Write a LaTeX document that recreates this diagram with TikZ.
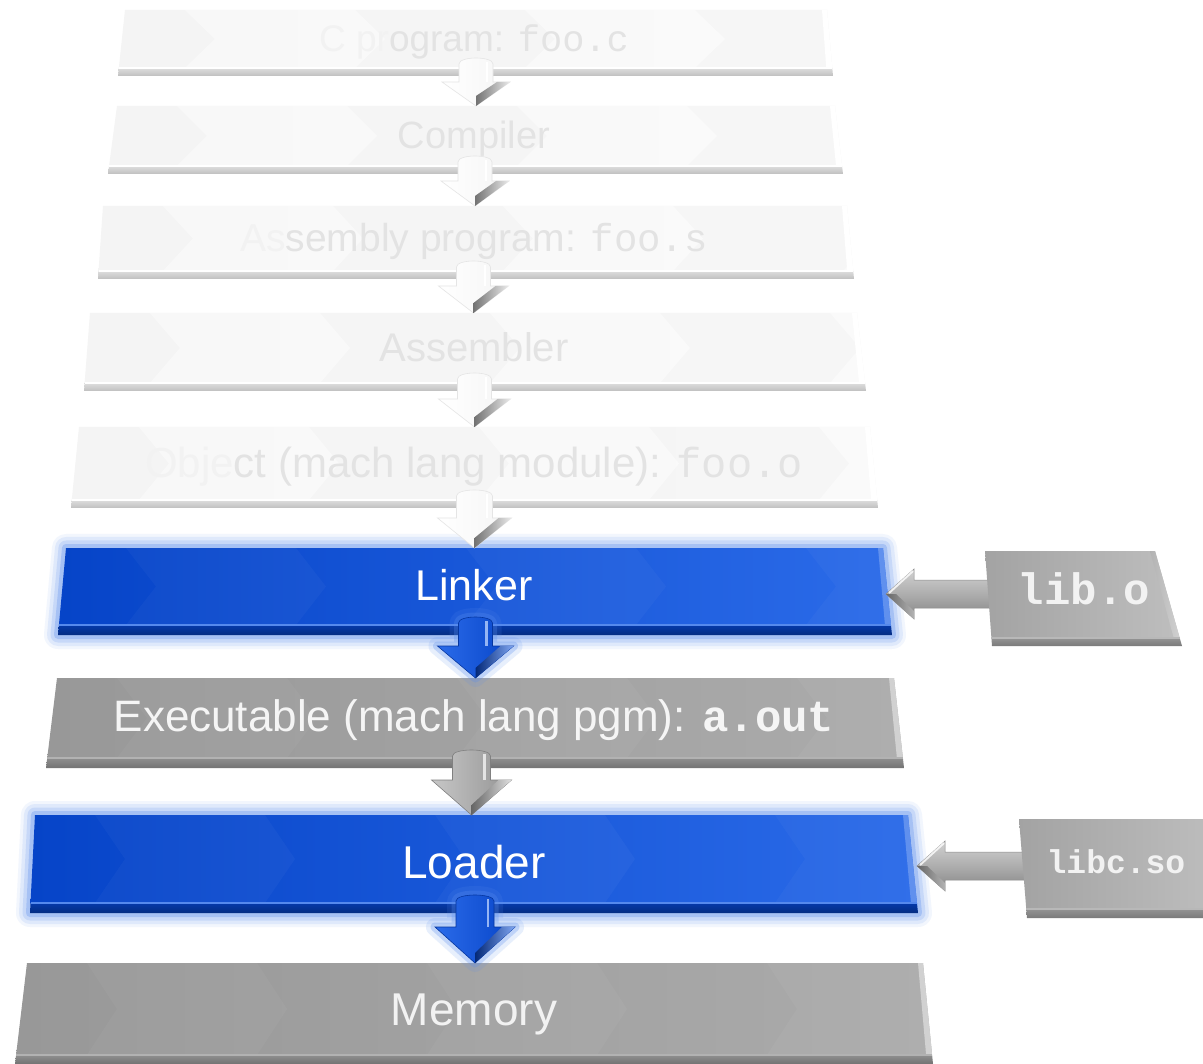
\documentclass[tikz,border=0pt]{standalone}
\usepackage{fontspec}
\setmainfont{Liberation Sans}
\newfontfamily\cmono{Liberation Mono}
\usetikzlibrary{calc}

\definecolor{fadeL}{HTML}{F4F4F4}
\definecolor{fadeR}{HTML}{F6F6F6}
\definecolor{fadeTxt}{HTML}{E3E3E3}
\definecolor{fadeHid}{HTML}{F2F2F2}
\definecolor{blueL}{HTML}{0644C8}
\definecolor{blueR}{HTML}{2B6BE9}
\definecolor{blueGlow}{HTML}{5A8EEE}
\definecolor{grayL}{HTML}{989898}
\definecolor{grayR}{HTML}{ABABAB}
\definecolor{libL}{HTML}{A3A3A3}
\definecolor{libR}{HTML}{BEBEBE}

% slab: #1 name, #2 ytop, #3 yface, #4 ybot, #5 xTL, #6 xTR, #7 xBL, #8 xBR, #9 style prefix
\newcommand\slab[9]{%
  \coordinate (#1-tl) at (#5,#2);
  \coordinate (#1-tr) at (#6,#2);
  \coordinate (#1-bl) at (#7,#4);
  \coordinate (#1-br) at (#8,#4);
  \coordinate (#1-fl) at ($(#1-tl)!{(#3-#2)/(#4-#2)}!(#1-bl)$);
  \coordinate (#1-fr) at ($(#1-tr)!{(#3-#2)/(#4-#2)}!(#1-br)$);
  \coordinate (#1-tc) at ($(#1-tl)!0.5!(#1-tr)$);
  \coordinate (#1-bc) at ($(#1-bl)!0.5!(#1-br)$);
  \path[#9glow] (#1-tl) -- (#1-tr) -- (#1-br) -- (#1-bl) -- cycle;
  \path[#9face] (#1-tl) -- (#1-tr) -- (#1-fr) -- (#1-fl) -- cycle;
  \begin{scope}
    \clip (#1-tl) -- (#1-tr) -- (#1-fr) -- (#1-fl) -- cycle;
    \foreach \k in {0,2,4} {
      \pgfmathsetmacro\ca{#5+60+170*\k}
      \pgfmathsetmacro\cb{\ca+170}
      \pgfmathsetmacro\cm{(#2+#3)/2}
      \path[#9chev] (\ca,#2) -- (\ca+30,\cm) -- (\ca,#3) -- (\cb,#3) -- (\cb+30,\cm) -- (\cb,#2) -- cycle;
    }
  \end{scope}
  \path[#9bev] (#1-fl) -- (#1-fr) -- (#1-br) -- (#1-bl) -- cycle;
  \path[#9side] (#1-tr) -- (#1-fr) -- ($(#1-fr)+(-6,0)$) -- ($(#1-tr)+(-5,0)$) -- cycle;
  \path[#9edge] (#1-fl) -- (#1-fr);
}

% down arrow: #1 upper slab, #2 lower slab, #3 shaft half width, #4 head half width, #5 head length, #6 style prefix
\newcommand\darr[6]{%
  \coordinate (#1-#2-s) at ($(#2-tc |- #1-bc)+(0,-12)$);
  \coordinate (#1-#2-h) at ($(#2-tc)+(0,-#5)$);
  \path[#6arr] ($(#1-#2-s)+(-#3,0)$) -- ($(#1-#2-h)+(-#3,0)$) -- ($(#1-#2-h)+(-#4,0)$)
     -- (#2-tc) -- ($(#1-#2-h)+(#4,0)$) -- ($(#1-#2-h)+(#3,0)$) -- ($(#1-#2-s)+(#3,0)$)
     .. controls ($(#1-#2-s)+(#3,-8)$) and ($(#1-#2-s)+(-#3,-8)$) .. ($(#1-#2-s)+(-#3,0)$) -- cycle;
  \path[#6bevel] ($(#1-#2-h)+(#4,0)$) -- (#2-tc) -- ($(#2-tc)+(0,-10)$) -- ($(#1-#2-h)+(#4-13,0)$) -- cycle;
  \path[#6hl] ($(#1-#2-s)+(#3-6,-2)$) -- ($(#1-#2-h)+(#3-6,0)$);
}

% left arrow: #1 tip coordinate, #2 source slab
\newcommand\larr[2]{%
  \path[sidearr] (#1) -- ($(#1)+(28,-25)$) -- ($(#1)+(28,-14)$) -- ($(#2-tl |- #1)+(14,-14)$)
     -- ($(#2-tl |- #1)+(14,14)$) -- ($(#1)+(28,14)$) -- ($(#1)+(28,25)$) -- cycle;
  \path[sidebevel] (#1) -- ($(#1)+(28,25)$) -- ($(#1)+(28,17)$) -- ($(#1)+(10,0)$) -- cycle;
  \path[sidehl] ($(#1)+(3,-1)$) -- ($(#1)+(27,-23)$);
}

\begin{document}
\begin{tikzpicture}[x=1pt,y=-1pt,
  lbl/.style={anchor=base, inner sep=0pt},
  % faded
  fadedglow/.style={},
  fadedface/.style={left color=fadeL, right color=fadeR},
  fadedchev/.style={fill=white, opacity=.45},
  fadedbev/.style={top color=black!13, bottom color=black!25},
  fadedside/.style={fill=white},
  fadededge/.style={draw=white, line width=1.2},
  % blue
  blueglow/.style={
    preaction={draw=blueGlow, line width=28, opacity=.08, line join=round},
    preaction={draw=blueGlow, line width=22, opacity=.12, line join=round},
    preaction={draw=blueGlow, line width=15, opacity=.18, line join=round},
    preaction={draw=blueGlow, line width=8, opacity=.3, line join=round}},
  blueface/.style={left color=blueL, right color=blueR},
  bluechev/.style={fill=white, opacity=.03},
  bluebev/.style={top color=blueL!85!black, bottom color=blueL!65!black},
  blueside/.style={fill=blueR!75!white},
  blueedge/.style={draw=blueR!80!white, line width=1.2},
  % gray
  grayglow/.style={},
  grayface/.style={left color=grayL, right color=grayR},
  graychev/.style={fill=white, opacity=.04},
  graybev/.style={top color=black!44, bottom color=black!55},
  grayside/.style={fill=black!18},
  grayedge/.style={draw=black!30, line width=1.2},
  % lib boxes
  libglow/.style={},
  libface/.style={left color=libL, right color=libR},
  libchev/.style={},
  libbev/.style={top color=black!42, bottom color=black!52},
  libside/.style={left color=black!30, right color=black!18},
  libedge/.style={draw=black!28, line width=1.2},
  % arrows
  fadedarr/.style={left color=white, right color=black!4, draw=black!10, line width=.6},
  fadedbevel/.style={left color=black!55, right color=black!8},
  fadedhl/.style={draw=white, line width=2},
  bluearr/.style={
    preaction={draw=blueGlow, line width=18, opacity=.14, line join=round},
    preaction={draw=blueGlow, line width=9, opacity=.28, line join=round},
    left color=blueR, right color=blueL, draw=blueL!80!black, line width=.6},
  bluebevel/.style={left color=blueL!60!black, right color=blueR!60!white},
  bluehl/.style={draw=blueR!50!white, line width=2.5},
  grayarr/.style={left color=black!22, right color=black!42, draw=black!50, line width=.6},
  graybevel/.style={left color=black!60, right color=black!12},
  grayhl/.style={draw=white, opacity=.7, line width=2.5},
  sidearr/.style={top color=black!18, bottom color=black!48, middle color=black!32, draw=black!45, line width=.5},
  sidebevel/.style={left color=black!60, right color=black!30},
  sidehl/.style={draw=white, opacity=.8, line width=2},
]
\useasboundingbox (0,0) rectangle (1203,1064);
\fill[white] (0,0) rectangle (1203,1064);

% main column of slabs
\slab{b1}{10}{68}{76}{125}{827}{118}{833}{faded}
\slab{b2}{106}{166}{174}{117}{835}{108}{843}{faded}
\slab{b3}{206}{271}{279}{103}{847}{98}{854}{faded}
\slab{b4}{313}{383}{391}{90}{857}{84}{866}{faded}
\slab{b5}{427}{500}{508}{79}{870}{71}{878}{faded}
\slab{lk}{548}{625}{635}{66}{883}{58}{892}{blue}
\slab{ex}{678}{758}{768}{57}{894}{46}{904}{gray}
\slab{ld}{815}{903}{913}{35}{908}{30}{918}{blue}
\slab{mm}{963}{1055}{1064}{27}{923}{15}{933}{gray}

% labels
\node[lbl, text=fadeTxt, font=\fontsize{37}{37}\selectfont] (n1) at (474,52)
  {\textcolor{fadeHid}{C pr}ogram: {\cmono foo.c}};
\node[lbl, text=fadeTxt, font=\fontsize{38}{38}\selectfont] (n2) at (474,149) {Compiler};
\node[lbl, text=fadeTxt, font=\fontsize{39}{39}\selectfont] (n3) at (474,252)
  {\textcolor{fadeHid}{As}sembly program: {\cmono foo.s}};
\node[lbl, text=fadeTxt, font=\fontsize{40}{40}\selectfont] (n4) at (474,362) {Assembler};
\node[lbl, text=fadeTxt, font=\fontsize{42}{42}\selectfont] (n5) at (474,478)
  {\textcolor{fadeHid}{Obje}ct (mach lang module): {\cmono foo.o}};
\node[lbl, text=white, font=\fontsize{43}{43}\selectfont] (nlk) at (474,600) {Linker};
\node[lbl, text=white!96!black, font=\fontsize{44}{44}\selectfont] (nex) at (474,731)
  {Executable (mach lang pgm): {\cmono\bfseries a.out}};
\node[lbl, text=white, font=\fontsize{46}{46}\selectfont] (nld) at (474,878) {Loader};
\node[lbl, text=white!95!black, font=\fontsize{46}{46}\selectfont] (nmm) at (474,1025) {Memory};

% downward arrows
\darr{b1}{b2}{17}{34}{24}{faded}
\darr{b2}{b3}{17}{34}{25}{faded}
\darr{b3}{b4}{17}{35}{27}{faded}
\darr{b4}{b5}{17}{36}{28}{faded}
\darr{b5}{lk}{18}{37}{30}{faded}
\darr{lk}{ex}{17}{38}{32}{blue}
\darr{ex}{ld}{19}{40}{35}{gray}
\darr{ld}{mm}{19}{40}{36}{blue}

% library inputs
\coordinate (lk-in) at (886,594);
\coordinate (ld-in) at (917,866);
\coordinate (lib-tl) at (985,551);
\coordinate (libc-tl) at (1019,819);
\larr{lk-in}{lib}
\larr{ld-in}{libc}
\slab{lib}{551}{638}{646}{985}{1155}{992}{1182}{lib}
\slab{libc}{819}{909}{918}{1019}{1212}{1027}{1222}{lib}
\node[lbl, text=white!95!black, font={\fontsize{44}{44}\selectfont\cmono\bfseries}] (nlib) at (1084,604) {lib.o};
\node[lbl, text=white!95!black, font={\fontsize{33}{33}\selectfont\cmono\bfseries}] (nlibc) at (1116,873) {libc.so};
\end{tikzpicture}
\end{document}
